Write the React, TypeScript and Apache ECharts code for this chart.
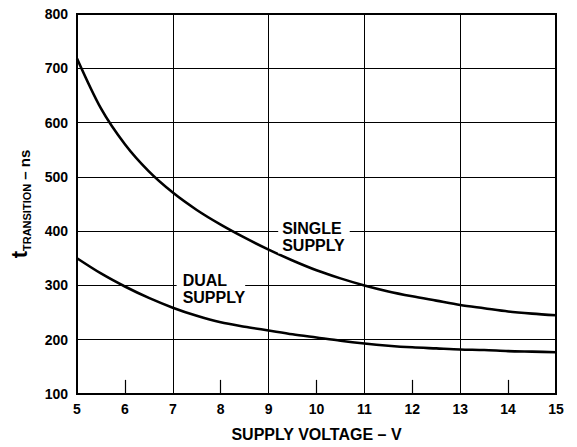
import React, { useEffect, useRef } from "react";
import * as echarts from "echarts";

const voltage = [5, 5.5, 6, 6.5, 7, 7.5, 8, 8.5, 9, 9.5, 10, 10.5, 11, 11.5, 12, 12.5, 13, 13.5, 14, 14.5, 15];
const singleSupply = [718, 626, 560, 510, 471, 439, 412, 388, 366, 346, 328, 313, 300, 289, 280, 272, 264, 258, 252, 248, 245];
const dualSupply = [350, 322, 298, 277, 259, 244, 232, 224, 217, 210, 204, 198, 193, 189, 186, 184, 182, 181, 179, 178, 177];
const xTicks = [5, 6, 7, 8, 9, 10, 11, 12, 13, 14, 15];
const yTicks = [100, 200, 300, 400, 500, 600, 700, 800];
const majorGridX = [7, 9, 11, 13];
const minorTickX = [6, 8, 10, 12, 14];

const FONT = "Liberation Sans, Arial, Helvetica, sans-serif";

export default function App() {
  const ref = useRef<HTMLDivElement>(null);
  useEffect(() => {
    const chart = echarts.init(ref.current!, null, { renderer: "svg" });
    const pairs = (ys: number[]) => voltage.map((v, i) => [v, ys[i]]);
    chart.setOption({
      animation: false,
      backgroundColor: "#fff",
      grid: {
        left: 77,
        top: 14,
        right: 21,
        bottom: 50,
        show: true,
        borderColor: "#000",
        borderWidth: 2,
        backgroundColor: "transparent",
      },
      xAxis: [
        {
          type: "value",
          min: xTicks[0],
          max: xTicks[xTicks.length - 1],
          interval: 1,
          axisLine: { show: false },
          axisTick: { show: false },
          splitLine: { show: false },
          axisLabel: { color: "#000", fontSize: 14, fontWeight: "bold", fontFamily: FONT, margin: 8 },
          name: "SUPPLY VOLTAGE – V",
          nameLocation: "middle",
          nameGap: 32,
          nameTextStyle: { color: "#000", fontSize: 16, fontWeight: "bold", fontFamily: FONT },
        },
      ],
      yAxis: {
        type: "value",
        min: yTicks[0],
        max: yTicks[yTicks.length - 1],
        interval: 100,
        axisLine: { show: false },
        axisTick: { show: false },
        splitLine: { show: true, lineStyle: { color: "#000", width: 1 } },
        axisLabel: { color: "#000", fontSize: 14, fontWeight: "bold", fontFamily: FONT, margin: 9 },
        name: "{t|t}{s|TRANSITION}{n| – ns}",
        nameLocation: "middle",
        nameGap: 45,
        nameTextStyle: {
          rich: {
            t: { fontSize: 22, fontWeight: "bold", fontFamily: FONT, color: "#000", verticalAlign: "top", lineHeight: 24 },
            s: { fontSize: 11, fontWeight: "bold", fontFamily: FONT, color: "#000", verticalAlign: "bottom", lineHeight: 12 },
            n: { fontSize: 15, fontWeight: "bold", fontFamily: FONT, color: "#000", verticalAlign: "bottom", lineHeight: 15 },
          },
        },
      },
      series: [
        {
          type: "line",
          data: pairs(singleSupply),
          smooth: 0.3,
          showSymbol: false,
          symbol: "none",
          lineStyle: { color: "#000", width: 2.6 },
          markLine: {
            silent: true,
            symbol: "none",
            label: { show: false },
            lineStyle: { color: "#000", width: 1, type: "solid" },
            data: majorGridX.map((x) => ({ xAxis: x })),
          },
          markPoint: {
            silent: true,
            symbol: "rect",
            symbolSize: 0,
            data: [
              {
                coord: [9.2, 390],
                label: {
                  show: true,
                  position: "inside",
                  align: "left",
                  verticalAlign: "middle",
                  formatter: "SINGLE\nSUPPLY",
                  color: "#000",
                  fontSize: 16,
                  fontWeight: "bold",
                  fontFamily: FONT,
                  lineHeight: 17,
                  backgroundColor: "#fff",
                  padding: [0, 5, 0, 4],
                },
              },
            ],
          },
          z: 3,
        },
        {
          type: "line",
          data: pairs(dualSupply),
          smooth: 0.3,
          showSymbol: false,
          symbol: "none",
          lineStyle: { color: "#000", width: 2.6 },
          markLine: {
            silent: true,
            symbol: "none",
            label: { show: false },
            lineStyle: { color: "#000", width: 1.2, type: "solid" },
            data: minorTickX.map((x) => [
              { coord: [x, 100] },
              { coord: [x, 126] },
            ]),
          },
          markPoint: {
            silent: true,
            symbol: "rect",
            symbolSize: 0,
            data: [
              {
                coord: [7.08, 293],
                label: {
                  show: true,
                  position: "inside",
                  align: "left",
                  verticalAlign: "middle",
                  formatter: "DUAL\nSUPPLY",
                  color: "#000",
                  fontSize: 16,
                  fontWeight: "bold",
                  fontFamily: FONT,
                  lineHeight: 17,
                  backgroundColor: "#fff",
                  padding: [0, 0, 0, 6],
                },
              },
            ],
          },
          z: 3,
        },
      ],
    });
    return () => chart.dispose();
  }, []);
  return <div ref={ref} style={{ position: "fixed", left: 0, top: 0, width: 577, height: 447 }} />;
}
